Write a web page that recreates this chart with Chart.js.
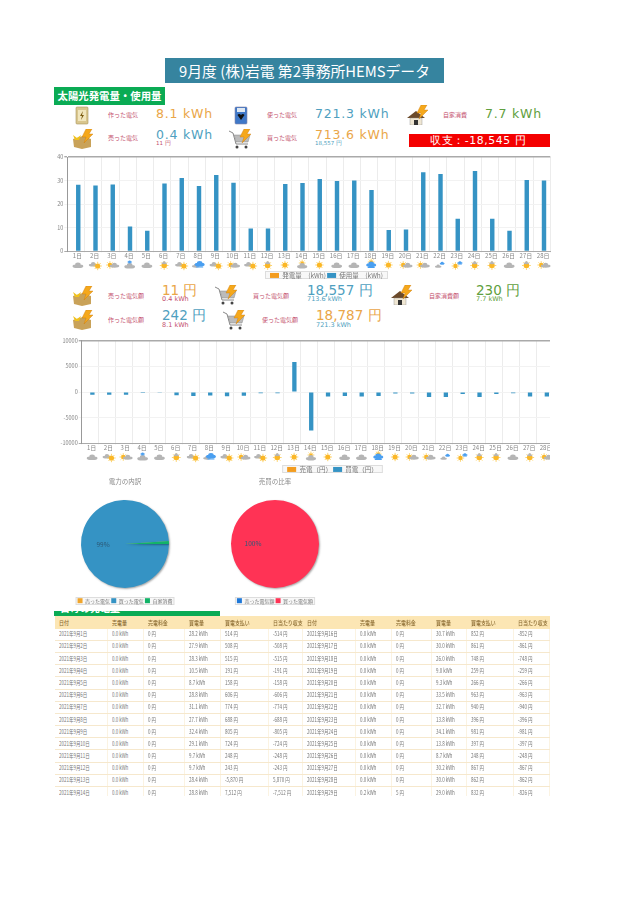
<!DOCTYPE html>
<html lang="ja">
<head>
<meta charset="utf-8">
<title>9月度 HEMSデータ</title>
<script src="https://cdn.jsdelivr.net/npm/chart.js@4"></script>
<style>
html, body { margin: 0; padding: 0; background: #fff; }
body { width: 644px; height: 911px; position: relative; overflow: hidden; font-family: "Noto Sans CJK JP", sans-serif; filter: blur(0.35px); }
.abs { position: absolute; white-space: nowrap; line-height: 1; }
.num { font-family: "DejaVu Sans", sans-serif; }
.big { letter-spacing: .8px; }
#title { left: 165px; top: 58px; width: 279px; height: 25px; line-height: 25px; background: #36849f; color: #fff; text-align: center; font-size: 14.8px; }
#solar { left: 54px; top: 87px; width: 111px; height: 18px; line-height: 18px; background: #0aab54; color: #fff; text-align: center; font-size: 10.4px; font-weight: 700; }
#balance { left: 409px; top: 134px; width: 120px; height: 13px; line-height: 13px; padding-left: 21px; background: #f40000; color: #fff; font-size: 10.8px; letter-spacing: .6px; }
#daily { left: 54px; top: 611px; width: 166px; height: 5px; background: #0aab54; overflow: hidden; }
#daily span { position: absolute; left: 6px; top: -8px; color: #fff; font-size: 10px; font-weight: 700; }
.wrap { position: absolute; overflow: hidden; }
#tbl { width: 495px; border-collapse: collapse; table-layout: fixed; font-size: 5.6px; color: #777; }
#tbl th { background: #fce6b4; color: #8a6a30; font-weight: 500; font-size: 6.2px; text-align: left; height: 12.6px; padding: 0 0 0 4px; white-space: nowrap; overflow: hidden; }
#tbl td { height: 11.2px; padding: 0 0 0 4px; border-bottom: 1px solid #f6e8cd; border-right: 1px solid #fbf3e2; white-space: nowrap; overflow: hidden; }
#tbl span { display: inline-block; transform: scaleX(.8); transform-origin: left center; }
</style>
</head>
<body>
<div class="abs" id="title">9月度 (株)岩電 第2事務所HEMSデータ</div>
<div class="abs" id="solar">太陽光発電量・使用量</div>
<div class="abs num" id="balance">収支：-18,545 円</div>

<div class="wrap" style="left:50px;top:150px;width:553px;height:132px"><canvas id="usageChart"></canvas></div>
<div class="wrap" style="left:50px;top:335px;width:500px;height:140px"><canvas id="moneyChart"></canvas></div>
<div class="wrap" style="left:35px;top:475px;width:180px;height:132px"><canvas id="mixChart"></canvas></div>
<div class="wrap" style="left:185px;top:475px;width:180px;height:132px"><canvas id="ratioChart"></canvas></div>

<div class="abs" id="daily"><span>日毎の発電量</span></div>
<div class="wrap" style="left:55px;top:616px;width:495px;height:180px"><table id="tbl"></table></div>

<script>
var days = ['1日','2日','3日','4日','5日','6日','7日','8日','9日','10日','11日','12日','13日','14日','15日','16日','17日','18日','19日','20日','21日','22日','23日','24日','25日','26日','27日','28日'];
var generatedKwh = [0,0,0,0,0,0,0,0,0,0,0,0,0,0,0,0,0,0,0,0,0,0,0,0,0,0,0,0];
var usedKwh = [28.2,27.9,28.3,10.5,8.7,28.8,31.1,27.7,32.4,29.1,9.7,9.7,28.6,29.0,30.7,29.8,30.0,26.0,9.0,9.3,33.5,32.8,13.8,34.1,13.8,8.7,30.2,30.0];
var soldYen = [0,0,0,0,0,0,0,0,0,0,0,0,0,0,0,0,0,0,0,0,0,0,0,0,0,0,0,0];
var boughtYen = [-514,-508,-515,-191,-158,-606,-774,-688,-805,-724,-248,-243,5870,-7512,-852,-780,-861,-748,-259,-266,-963,-940,-396,-981,-397,-248,-867,-862];
var weather = ['c','cs','sc','rc','c','Sc','cs','R','cs','sc','cs','Sc','s','Cs','s','c','c','Rs','s','sc','sc','cr','sr','Sc','Sc','c','Sc','sc'];

var usageTicks = [0,10,20,30,40];
var moneyTicks = [-10000,-5000,0,5000,10000];

var mixLabels = ['売った電気','買った電気','自家消費'];
var mixValues = [0.4,713.6,7.7];
var ratioLabels = ['売った電気額','買った電気額'];
var ratioValues = [11,18557];

var tableHead = ['日付','売電量','売電料金','買電量','買電支払い','日当たり収支'];
var leftDates = [1,2,3,4,5,6,7,8,9,10,11,12,13,14];
var leftSellKwh = ['0.0','0.0','0.0','0.0','0.0','0.0','0.0','0.0','0.0','0.0','0.0','0.0','0.0','0.0'];
var leftSellYen = ['0','0','0','0','0','0','0','0','0','0','0','0','0','0'];
var leftBuyKwh = ['28.2','27.9','28.3','10.5','8.7','28.8','31.1','27.7','32.4','29.1','9.7','9.7','28.4','28.8'];
var leftPay = ['514','508','515','191','158','606','774','688','805','724','248','243','-5,870','7,512'];
var leftNet = ['-514','-508','-515','-191','-158','-606','-774','-688','-805','-724','-248','-243','5,870','-7,512'];
var rightDates = [16,17,18,19,20,21,22,23,24,25,26,27,28,29];
var rightSellKwh = ['0.0','0.0','0.0','0.0','0.0','0.0','0.0','0.0','0.0','0.0','0.0','0.0','0.0','0.2'];
var rightSellYen = ['0','0','0','0','0','0','0','0','0','0','0','0','0','5'];
var rightBuyKwh = ['30.7','30.0','26.0','9.0','9.3','33.5','32.7','13.8','34.1','13.8','8.7','30.2','30.0','29.0'];
var rightPay = ['852','861','748','259','266','963','940','396','981','397','248','867','862','832'];
var rightNet = ['-852','-861','-748','-259','-266','-963','-940','-396','-981','-397','-248','-867','-862','-826'];

var ORANGE = '#f39c1f', BLUE = '#3593c4';
Chart.defaults.font.family = '"Noto Sans CJK JP", sans-serif';
Chart.defaults.animation = false;
Chart.defaults.responsive = false;

// 凡例の枠
function legendBox(pad) {
    return {
        id: 'legendBox',
        beforeDraw: function(chart) {
            var l = chart.legend, c = chart.ctx;
            if (!l) return;
            var w = l.legendHitBoxes, x0 = w[0].left - pad, last = w[w.length - 1], x1 = last.left + last.width + pad;
            c.save();
            c.fillStyle = '#f8f8f8';
            c.strokeStyle = '#ddd';
            c.fillRect(x0, l.top, x1 - x0, l.height);
            c.strokeRect(x0 + .5, l.top + .5, x1 - x0 - 1, l.height - 1);
            c.restore();
        }
    };
}

function drawCloud(c, x, y, k) {
    c.fillStyle = '#b5b5b5';
    c.beginPath();
    c.ellipse(x, y + 1.2 * k, 5.4 * k, 1.9 * k, 0, 0, Math.PI * 2);
    c.ellipse(x, y - .2 * k, 2.8 * k, 2.4 * k, 0, 0, Math.PI * 2);
    c.fill();
}
function drawSun(c, x, y, r) {
    c.strokeStyle = '#fbc94a';
    c.lineWidth = .8;
    for (var i = 0; i < 8; i++) {
        var a = i * Math.PI / 4;
        c.beginPath();
        c.moveTo(x + Math.cos(a) * r, y + Math.sin(a) * r);
        c.lineTo(x + Math.cos(a) * (r + 1.6), y + Math.sin(a) * (r + 1.6));
        c.stroke();
    }
    c.fillStyle = '#fbb726';
    c.beginPath();
    c.arc(x, y, r, 0, Math.PI * 2);
    c.fill();
}
function drawRain(c, x, y, k) {
    c.fillStyle = '#4a9ff0';
    c.beginPath();
    c.ellipse(x, y, 5 * k, 2 * k, 0, 0, Math.PI * 2);
    c.ellipse(x, y - 1 * k, 2.8 * k, 2.4 * k, 0, 0, Math.PI * 2);
    c.fill();
    c.fillRect(x - 3.5 * k, y + 2 * k, 7 * k, 1 * k);
}
function drawWeather(c, code, x, y) {
    if (code == 'c') drawCloud(c, x, y, 1);
    if (code == 'cs') { drawCloud(c, x - 2, y - 1, .8); drawSun(c, x + 2.5, y + 1, 2.6); }
    if (code == 'sc') { drawSun(c, x - 2.5, y, 2.2); drawCloud(c, x + 2, y, .9); }
    if (code == 'rc') { drawCloud(c, x, y + .5, 1); drawRain(c, x, y - 3, .45); }
    if (code == 's') drawSun(c, x, y, 2.6);
    if (code == 'Sc') { drawSun(c, x, y + .5, 2.8); drawCloud(c, x, y - 2.4, .5); }
    if (code == 'R') { drawCloud(c, x - 3, y + .5, .7); drawRain(c, x + 1, y - .5, 1); }
    if (code == 'Cs') { drawSun(c, x, y - 2, 1.8); drawCloud(c, x, y + .5, .95); }
    if (code == 'Rs') { drawSun(c, x, y - 3, 1.8); drawRain(c, x, y, 1); }
    if (code == 'cr') { drawCloud(c, x - 2, y + 1, .6); drawRain(c, x + 2, y - 1.5, .5); }
    if (code == 'sr') { drawSun(c, x - 2, y + 1, 2.2); drawRain(c, x + 2.5, y - 2, .55); }
}

// X軸の下の天気アイコン
function weatherRow(y) {
    return {
        id: 'weatherRow',
        afterDraw: function(chart) {
            var c = chart.ctx, s = chart.scales.x;
            c.save();
            for (var i = 0; i < weather.length; i++) {
                drawWeather(c, weather[i], s.getPixelForValue(i) + 2, y);
            }
            c.restore();
        }
    };
}

function barOptions(yLeft, xHeight, rightGap, ticks, top) {
    var lo = ticks[0], hi = ticks[ticks.length - 1];
    return {
        layout: { padding: { top: top, left: 0, right: 0, bottom: 0 } },
        plugins: {
            legend: {
                position: 'bottom',
                maxHeight: 8,
                labels: { boxWidth: 9, boxHeight: 5, padding: 1.2, color: '#777', font: { size: 6.5 } }
            },
            tooltip: { enabled: false }
        },
        scales: {
            x: {
                afterFit: function(s) { s.height = xHeight; },
                border: { color: '#aaa', width: 1 },
                grid: { color: '#ececec', tickLength: 1 },
                ticks: { color: '#888', font: { size: 6 }, padding: 0, maxRotation: 0, autoSkip: false, labelOffset: 1.5 }
            },
            y: {
                min: lo, max: hi,
                afterFit: function(s) { s.width = yLeft; },
                afterBuildTicks: function(s) { s.ticks = ticks.map(function(v) { return { value: v }; }); },
                border: { color: '#999', width: 1 },
                grid: {
                    color: function(ctx) { return (ctx.tick.value == hi || ctx.tick.value == lo) ? '#aaa' : '#f2f2f2'; },
                    lineWidth: function(ctx) { return ctx.tick.value == hi ? 1.4 : 1; },
                    tickLength: 3
                },
                ticks: { color: '#888', font: { size: 5.5 }, padding: 1, callback: function(v) { return String(v); } }
            },
            gap: {
                position: 'right', min: 0, max: 1,
                afterFit: function(s) { s.width = rightGap; },
                border: { display: false }, grid: { display: false }, ticks: { display: false }
            }
        }
    };
}

function barData(labelA, a, labelB, b) {
    return {
        labels: days,
        datasets: [
            { label: labelA, data: a, backgroundColor: ORANGE, categoryPercentage: .54, barPercentage: .95 },
            { label: labelB, data: b, backgroundColor: BLUE, categoryPercentage: .54, barPercentage: .95 }
        ]
    };
}

function setSize(id, w, h) {
    var el = document.getElementById(id);
    el.width = w; el.height = h;
    return el;
}

new Chart(setSize('usageChart', 553, 129), {
    type: 'bar',
    data: barData('発電量　(kWh)', generatedKwh, '使用量　(kWh)', usedKwh),
    options: barOptions(17.3, 19.7, 52.7, usageTicks, 7),
    plugins: [legendBox(5), weatherRow(115)]
});

new Chart(setSize('moneyChart', 565, 138), {
    type: 'bar',
    data: barData('売電（円）', soldYen, '買電（円）', boughtYen),
    options: barOptions(31.7, 21.6, 62, moneyTicks, 5.7),
    plugins: [legendBox(5), weatherRow(122)]
});

// 円グラフの影と%表示
var pieDecor = {
    id: 'pieDecor',
    beforeDatasetsDraw: function(chart) {
        var c = chart.ctx;
        c.save();
        c.shadowColor = 'rgba(0,0,0,.35)';
        c.shadowBlur = 2;
        c.shadowOffsetX = 1;
        c.shadowOffsetY = 1;
    },
    afterDatasetsDraw: function(chart) {
        var c = chart.ctx;
        c.restore();
        var vals = chart.data.datasets[0].data;
        var sum = vals.reduce(function(a, b) { return a + b; }, 0);
        var big = vals.indexOf(Math.max.apply(null, vals));
        var p = chart.getDatasetMeta(0).data[big].getCenterPoint();
        c.save();
        c.fillStyle = '#2c5a78';
        c.font = '6.5px "Noto Sans CJK JP"';
        c.textAlign = 'center';
        c.textBaseline = 'middle';
        c.fillText(Math.round(vals[big] / sum * 100) + '%', p.x, p.y);
        c.restore();
    }
};

function pieOptions(title) {
    return {
        rotation: 90,
        radius: 44,
        plugins: {
            title: { display: true, text: title, color: '#888', font: { size: 6.5, weight: 'normal' }, padding: { top: 3, bottom: 5 } },
            legend: { position: 'bottom', maxHeight: 8, labels: { boxWidth: 5, boxHeight: 5, padding: 1.2, color: '#777', font: { size: 5 } } },
            tooltip: { enabled: false }
        }
    };
}

new Chart(setSize('mixChart', 180, 130), {
    type: 'pie',
    data: { labels: mixLabels, datasets: [{ data: mixValues, backgroundColor: ['#f0a52c', BLUE, '#12b368'], borderWidth: 0 }] },
    options: pieOptions('電力の内訳'),
    plugins: [legendBox(2), pieDecor]
});

new Chart(setSize('ratioChart', 180, 130), {
    type: 'pie',
    data: { labels: ratioLabels, datasets: [{ data: ratioValues, backgroundColor: ['#1f78d8', '#ff3355'], borderWidth: 0 }] },
    options: pieOptions('売買の比率'),
    plugins: [legendBox(2), pieDecor]
});

// 集計テキスト
function put(x, y, text, size, color, cls) {
    var d = document.createElement('div');
    d.className = 'abs ' + (cls || '');
    d.style.left = x + 'px';
    d.style.top = (y - size / 2) + 'px';
    d.style.fontSize = size + 'px';
    d.style.color = color;
    d.textContent = text;
    document.body.appendChild(d);
}
var RED = '#c4506e', OR = '#eaa648', BL = '#4f9fc0', GR = '#5fa040';
put(108, 114.5, '作った電気', 6, RED);
put(156, 114, '8.1 kWh', 12.5, OR, 'num big');
put(267, 114.5, '使った電気', 6, RED);
put(315, 114, '721.3 kWh', 12.5, BL, 'num big');
put(443, 114.5, '自家消費', 6, RED);
put(485, 114, '7.7 kWh', 12.5, GR, 'num big');
put(108, 138, '売った電気', 6, RED);
put(156, 135, '0.4 kWh', 12.5, BL, 'num big');
put(156, 143.5, '11 円', 5.5, RED, 'num');
put(267, 138, '買った電気', 6, RED);
put(315, 135, '713.6 kWh', 12.5, OR, 'num big');
put(315, 143.5, '18,557 円', 5.5, BL, 'num');

put(108, 296, '売った電気額', 6, RED);
put(162, 291, '11 円', 13.5, OR, 'num');
put(162, 299.5, '0.4 kWh', 6.5, RED, 'num');
put(253, 296, '買った電気額', 6, RED);
put(307, 291, '18,557 円', 13.5, BL, 'num');
put(307, 299.5, '713.6 kWh', 6.5, BL, 'num');
put(429, 296, '自家消費額', 6, RED);
put(476, 291, '230 円', 13.5, GR, 'num');
put(476, 299.5, '7.7 kWh', 6.5, GR, 'num');
put(108, 320, '作った電気額', 6, RED);
put(162, 316, '242 円', 13.5, BL, 'num');
put(162, 325, '8.1 kWh', 6.5, RED, 'num');
put(262, 320, '使った電気額', 6, RED);
put(316, 316, '18,787 円', 13.5, OR, 'num');
put(316, 325, '721.3 kWh', 6.5, BL, 'num');

// アイコン
var boltSvg = '<path d="M15 0 L21 0 L18 5 L22 5 L13 14 L15 8 L11 8 Z" fill="#f5a81c" stroke="#c9790c" stroke-width=".4"/>';
var icons = {
    battery: '<rect x="6" y="2" width="12" height="17" rx="1" fill="#d9c68e" stroke="#a8945c" stroke-width=".6"/><rect x="8" y="5" width="8" height="11" fill="#f1e6bd"/><path d="M13 6 L10 11 L12 11 L11 15 L14 10 L12 10 Z" fill="#7a5a10"/>',
    batteryBlue: '<rect x="6" y="2" width="12" height="17" rx="1" fill="#3f78c8" stroke="#88a" stroke-width=".6"/><rect x="8" y="3" width="8" height="4" fill="#dfe8f2"/><path d="M12 15 L8.5 10 Q10 8 12 10 Q14 8 15.5 10 Z" fill="#111"/>',
    house: '<path d="M1 13 L10 6 L19 13 Z" fill="#6b4a2a"/><rect x="4" y="13" width="12" height="7" fill="#efe6d2" stroke="#888" stroke-width=".4"/><rect x="8" y="15" width="4" height="5" fill="#333"/>' + boltSvg,
    yenBox: '<path d="M2 10 L12 7 L20 10 L20 18 L11 20 L3 18 Z" fill="#c9a259"/><path d="M2 6 L6 9 L10 6 L8 11 L4 11 Z" fill="#f1c21c"/>' + boltSvg,
    cart: '<path d="M0 2 L4 4 L7 15 L19 15" fill="none" stroke="#888" stroke-width="1"/><path d="M5 6 L21 6 L19 13 L7 13 Z" fill="#bbb" stroke="#888" stroke-width=".5"/><circle cx="8" cy="18" r="1.5" fill="#444"/><circle cx="17" cy="18" r="1.5" fill="#444"/>' + boltSvg
};
function icon(name, cx, cy) {
    var s = document.createElement('div');
    s.className = 'abs';
    s.style.left = (cx - 11) + 'px';
    s.style.top = (cy - 10) + 'px';
    s.innerHTML = '<svg width="22" height="20" viewBox="0 0 22 20">' + icons[name] + '</svg>';
    document.body.appendChild(s);
}
icon('battery', 81, 115);
icon('batteryBlue', 240, 115);
icon('house', 417, 115);
icon('yenBox', 82, 139);
icon('cart', 240, 139);
icon('yenBox', 82, 296);
icon('cart', 226, 295);
icon('house', 401, 295);
icon('yenBox', 82, 320);
icon('cart', 234, 320);

// 日別テーブル
function cell(v) { return '<td><span>' + v + '</span></td>'; }
var colW = [52.7, 36.3, 41, 36, 48, 34, 53, 36, 39.7, 35.3, 47, 35.9];
var html = '<colgroup>' + colW.map(function(w) { return '<col style="width:' + w + 'px">'; }).join('') + '</colgroup><tr>';
tableHead.concat(tableHead).forEach(function(h) { html += '<th><span>' + h + '</span></th>'; });
html += '</tr>';
for (var i = 0; i < leftDates.length; i++) {
    html += '<tr>' + cell('2021年9月' + leftDates[i] + '日') + cell(leftSellKwh[i] + ' kWh') + cell(leftSellYen[i] + ' 円') + cell(leftBuyKwh[i] + ' kWh') + cell(leftPay[i] + ' 円') + cell(leftNet[i] + ' 円');
    html += cell('2021年9月' + rightDates[i] + '日') + cell(rightSellKwh[i] + ' kWh') + cell(rightSellYen[i] + ' 円') + cell(rightBuyKwh[i] + ' kWh') + cell(rightPay[i] + ' 円') + cell(rightNet[i] + ' 円') + '</tr>';
}
document.getElementById('tbl').innerHTML = html;
</script>
</body>
</html>
